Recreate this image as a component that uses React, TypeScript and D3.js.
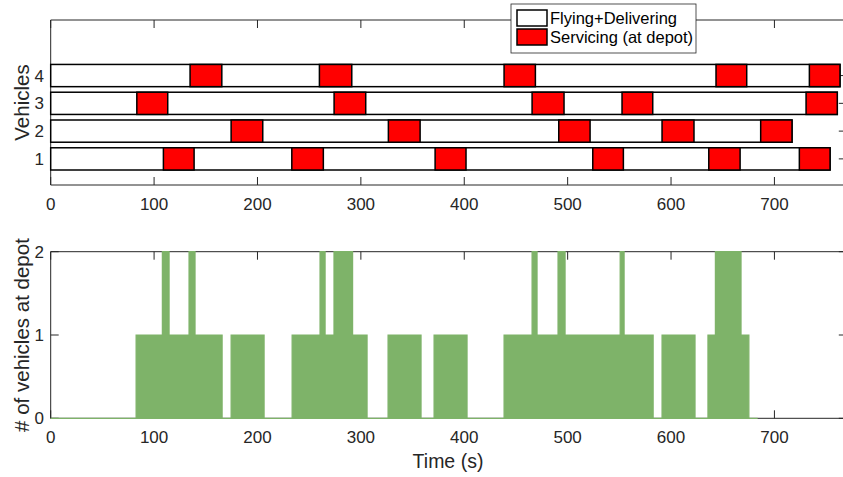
import React from "react";
import * as d3 from "d3";

// ---------- data ----------
const vehicleIds = [1, 2, 3, 4];
// servicing (at depot) intervals for each vehicle, seconds
const serviceStarts: number[][] = [
  [109.0, 233.2, 371.8, 524.3, 636.5, 724.1],
  [174.5, 326.6, 491.4, 591.3, 686.7],
  [83.3, 274.1, 465.6, 552.6, 730.6],
  [134.8, 259.9, 438.5, 643.5, 733.8],
];
const serviceEnds: number[][] = [
  [138.7, 263.7, 401.7, 553.9, 666.8, 753.8],
  [205.1, 357.3, 521.7, 622.2, 717.0],
  [113.2, 304.7, 496.5, 582.3, 760.8],
  [165.5, 291.2, 468.8, 673.2, 763.4],
];
// number of vehicles at depot (step changes)
const depotTimes = [
  0, 82.6, 108, 114.5, 133.8, 139.6, 165.8, 174.5, 206.4, 233.5, 260.5, 265.4, 274, 292, 306,
  326.3, 358.2, 370.8, 402.7, 438.5, 465.6, 470.4, 490.7, 497.5, 550.8, 554.6, 582.7, 591.3,
  623.2, 635.7, 642.9, 667.7, 675.3, 683.8,
];
const depotCounts = [
  0, 1, 2, 1, 2, 1, 0, 1, 0, 1, 2, 1, 2, 1, 0,
  1, 0, 1, 0, 1, 2, 1, 2, 1, 2, 1, 0, 1,
  0, 1, 2, 1, 0, 0,
];
const xTickValues = [0, 100, 200, 300, 400, 500, 600, 700];
const topYTicks = [1, 2, 3, 4];
const bottomYTicks = [0, 1, 2];
const legendLabels = ["Flying+Delivering", "Servicing (at depot)"];
const legendColors = ["#ffffff", "#ff0000"];

const FONT = "'Liberation Sans', Arial, Helvetica, sans-serif";
const AX = "#262626";
const GREEN = "#7eb369";

export default function App() {
  const W = 843, H = 477;
  const x = d3.scaleLinear().domain([0, 770]).range([50.7, 846.8]);
  const yTop = d3.scaleLinear().domain([0.06, 6]).range([185, 20]);
  const yBot = d3.scaleLinear().domain([0, 2]).range([418.3, 251.7]);
  const tickLen = 8;

  const depotData = depotTimes.map((t, i) => ({ t, c: depotCounts[i] }));
  const areaGen = d3
    .area<{ t: number; c: number }>()
    .x((d) => x(d.t))
    .y0(yBot(0))
    .y1((d) => yBot(d.c))
    .curve(d3.curveStepAfter);

  const frame = (yS: d3.ScaleLinear<number, number>) => {
    const [y0, y1] = yS.range();
    const [x0, x1] = x.range();
    return `M${x0},${y1}H${x1}V${y0}H${x0}Z`;
  };

  const xTicksFor = (yS: d3.ScaleLinear<number, number>, labelY: number) => {
    const [yb, yt] = yS.range();
    return xTickValues.map((t) => (
      <g key={t}>
        <line x1={x(t)} x2={x(t)} y1={yb} y2={yb - tickLen} stroke={AX} strokeWidth={1} />
        <line x1={x(t)} x2={x(t)} y1={yt} y2={yt + tickLen} stroke={AX} strokeWidth={1} />
        <text x={x(t)} y={labelY} textAnchor="middle" fontSize={17} fill={AX} fontFamily={FONT}>
          {t}
        </text>
      </g>
    ));
  };

  const yTicksFor = (yS: d3.ScaleLinear<number, number>, vals: number[]) => {
    const [x0, x1] = x.range();
    return vals.map((v) => (
      <g key={v}>
        <line x1={x0} x2={x0 + tickLen} y1={yS(v)} y2={yS(v)} stroke={AX} strokeWidth={1} />
        <line x1={x1} x2={x1 - tickLen} y1={yS(v)} y2={yS(v)} stroke={AX} strokeWidth={1} />
        <text x={44} y={yS(v)} dy="0.36em" textAnchor="end" fontSize={17} fill={AX} fontFamily={FONT}>
          {v}
        </text>
      </g>
    ));
  };

  return (
    <svg
      width={W}
      height={H}
      style={{ position: "fixed", left: 0, top: 0, background: "#fff" }}
      fontFamily={FONT}
    >
      <rect width={W} height={H} fill="#fff" />
      {/* ---------- top chart ---------- */}
      <path d={frame(yTop)} fill="none" stroke={AX} strokeWidth={1} />
      {xTicksFor(yTop, 210)}
      {yTicksFor(yTop, topYTicks)}
      {vehicleIds.map((v, i) => {
        const ends = serviceEnds[i];
        const lastEnd = ends[ends.length - 1];
        const yA = yTop(v + 0.4);
        const yB = yTop(v - 0.4);
        return (
          <g key={v}>
            <rect x={x(0)} y={yA} width={x(lastEnd) - x(0)} height={yB - yA} fill="#fff" stroke="#000" strokeWidth={1.5} />
            {serviceStarts[i].map((s, j) => (
              <rect
                key={j}
                x={x(s)}
                y={yA}
                width={x(ends[j]) - x(s)}
                height={yB - yA}
                fill="#ff0000"
                stroke="#000"
                strokeWidth={1.5}
              />
            ))}
          </g>
        );
      })}
      <text
        transform={`translate(29,${(yTop.range()[0] + yTop.range()[1]) / 2}) rotate(-90)`}
        textAnchor="middle"
        fontSize={20.5}
        fill={AX}
      >
        Vehicles
      </text>
      {/* legend */}
      <g>
        <rect x={511} y={4} width={185} height={49} fill="#fff" stroke={AX} strokeWidth={0.8} />
        {legendLabels.map((lab, i) => (
          <g key={lab}>
            <rect x={517} y={10 + i * 19} width={30} height={16} fill={legendColors[i]} stroke="#000" strokeWidth={1.5} />
            <text x={550} y={24 + i * 19} fontSize={16.5} fill="#000">
              {lab}
            </text>
          </g>
        ))}
      </g>

      {/* ---------- bottom chart ---------- */}
      <path d={frame(yBot)} fill="none" stroke={AX} strokeWidth={1} />
      {xTicksFor(yBot, 443)}
      {yTicksFor(yBot, bottomYTicks)}
      <path d={areaGen(depotData) || ""} fill={GREEN} stroke={GREEN} strokeWidth={1.2} />
      <text
        transform={`translate(29,${(yBot.range()[0] + yBot.range()[1]) / 2}) rotate(-90)`}
        textAnchor="middle"
        fontSize={20.5}
        fill={AX}
      >
        # of vehicles at depot
      </text>
      <text x={448} y={468} textAnchor="middle" fontSize={19.5} fill={AX}>
        Time (s)
      </text>
    </svg>
  );
}
